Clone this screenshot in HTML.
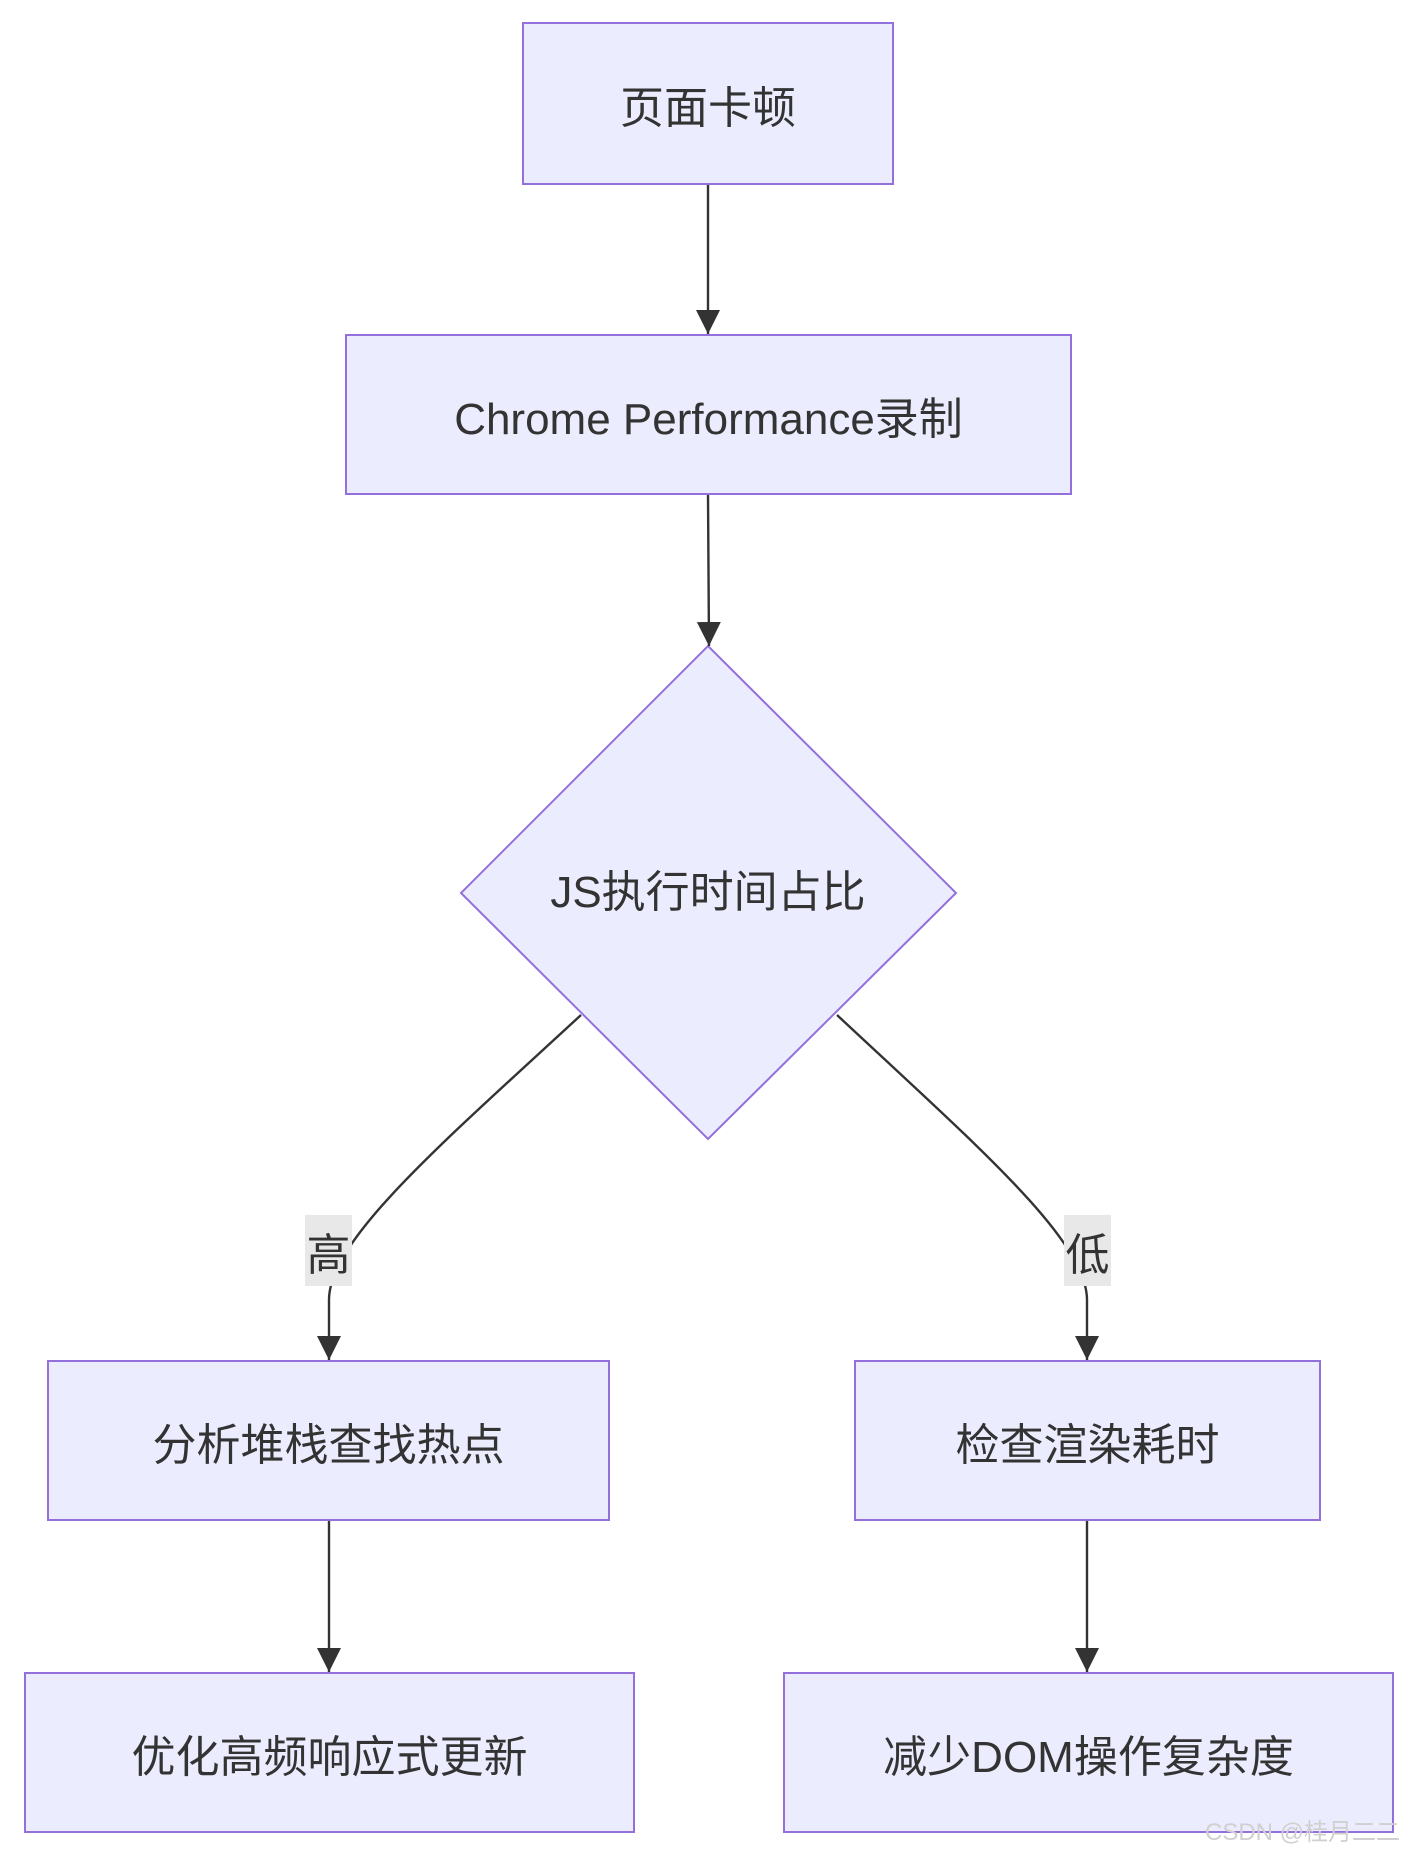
<!DOCTYPE html>
<html><head><meta charset="utf-8"><style>
html,body{margin:0;padding:0;background:#fff;}
body{width:1421px;height:1863px;position:relative;overflow:hidden;font-family:"Liberation Sans","Noto Sans CJK SC",sans-serif;}
.b{position:absolute;box-sizing:border-box;background:#ECECFF;border:2px solid #9370DB;display:flex;align-items:center;justify-content:center;color:#333;font-size:44px;}
.l{position:absolute;background:#e8e8e8;color:#333;font-size:44px;display:flex;align-items:center;justify-content:center;}
</style></head><body>
<svg width="1421" height="1863" style="position:absolute;left:0;top:0">
<defs><marker id="a" viewBox="0 0 10 10" refX="10" refY="5" markerWidth="10" markerHeight="10" markerUnits="userSpaceOnUse" orient="auto"><path d="M0,0L10,5L0,10z" fill="#333"/></marker>
<marker id="m" viewBox="0 0 12 12" refX="12" refY="6" markerWidth="24" markerHeight="24" markerUnits="userSpaceOnUse" orient="auto"><path d="M0,0L12,6L0,12z" fill="#333"/></marker></defs>
<polygon points="708,646 956,893 708,1139 461,893" fill="#ECECFF" stroke="#9370DB" stroke-width="2"/>
<g stroke="#333" stroke-width="2.4" fill="none">
<path d="M708,185 L708,334" marker-end="url(#m)"/>
<path d="M708,495 L709,646" marker-end="url(#m)"/>
<path d="M581,1015 C440,1145 329,1240 329,1300 L329,1360" marker-end="url(#m)"/>
<path d="M837,1015 C976,1145 1087,1240 1087,1300 L1087,1360" marker-end="url(#m)"/>
<path d="M329,1521 L329,1672" marker-end="url(#m)"/>
<path d="M1087,1521 L1087,1672" marker-end="url(#m)"/>
</g>
<text x="708" y="907" text-anchor="middle" font-size="44" fill="#333" font-family="Liberation Sans, Noto Sans CJK SC, sans-serif">JS执行时间占比</text>
</svg>
<div class="b" style="left:522px;top:22px;width:372px;height:163px">页面卡顿</div>
<div class="b" style="left:345px;top:334px;width:727px;height:161px">Chrome Performance录制</div>
<div class="b" style="left:47px;top:1360px;width:563px;height:161px">分析堆栈查找热点</div>
<div class="b" style="left:854px;top:1360px;width:467px;height:161px">检查渲染耗时</div>
<div class="b" style="left:24px;top:1672px;width:611px;height:161px">优化高频响应式更新</div>
<div class="b" style="left:783px;top:1672px;width:611px;height:161px">减少DOM操作复杂度</div>
<div class="l" style="left:305px;top:1215px;width:47px;height:71px">高</div>
<div class="l" style="left:1064px;top:1215px;width:47px;height:71px">低</div>
<div style="position:absolute;left:1205px;top:1812px;font-size:24px;color:#d0d0d0;">CSDN @桂月二二</div>
</body></html>
